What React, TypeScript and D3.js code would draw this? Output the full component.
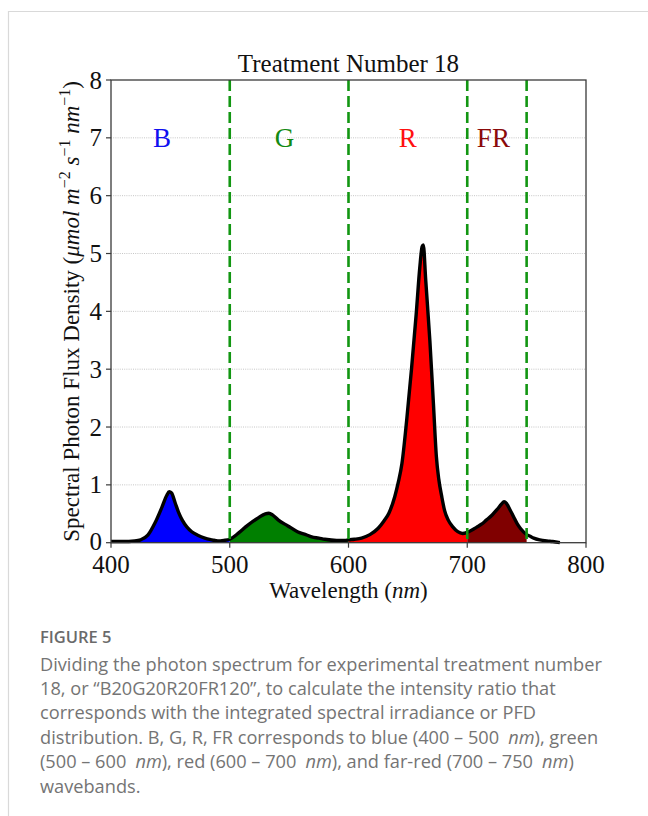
import React from 'react';
import * as d3 from 'd3';

// ---- data ----
const WAVELENGTH = [
  400, 410, 420, 425, 431, 437, 443, 447, 449, 451, 454, 457, 460, 464, 468, 473, 479, 485, 490, 495, 500,
  507, 515, 524, 530, 533, 536, 541, 549, 557, 564, 569, 575, 580, 590, 597, 600,
  605, 611, 618, 625, 630, 634, 639, 642, 645, 649, 653, 657, 660, 662, 663, 665, 668.5, 671.5, 674, 676, 678.5, 681, 684, 688, 692, 696, 700,
  704, 708, 712, 716, 721, 725, 729, 731, 733, 736, 739, 742, 745, 750, 753, 756, 761, 767, 772, 778,
];
const PFD = [
  0.02, 0.02, 0.03, 0.05, 0.13, 0.34, 0.62, 0.82, 0.88, 0.86, 0.69, 0.52, 0.39, 0.27, 0.19, 0.13, 0.08, 0.05, 0.03, 0.04, 0.06,
  0.16, 0.30, 0.43, 0.50, 0.51, 0.48, 0.39, 0.29, 0.19, 0.14, 0.10, 0.08, 0.06, 0.04, 0.04, 0.05,
  0.06, 0.08, 0.14, 0.25, 0.38, 0.51, 0.80, 1.05, 1.37, 2.12, 2.99, 3.95, 4.75, 5.12, 5.15, 4.55, 3.5, 2.41, 1.49, 1.1, 0.80, 0.55, 0.39, 0.27, 0.19, 0.16, 0.18,
  0.22, 0.27, 0.32, 0.39, 0.48, 0.57, 0.67, 0.71, 0.68, 0.57, 0.45, 0.33, 0.24, 0.14, 0.11, 0.08, 0.05, 0.03, 0.02, 0.0,
];
const BAND_NAMES = ['B', 'G', 'R', 'FR'];
const BAND_EDGES = [400, 500, 600, 700, 750];
const BAND_LABEL_NM = [443, 546, 650, 722];
const BAND_LABEL_VALUE = 7;
const X_TICKS = [400, 500, 600, 700, 800];
const Y_TICKS = [0, 1, 2, 3, 4, 5, 6, 7, 8];
const TITLE = 'Treatment Number 18';

const BAND_COLORS = ['#0000ff', '#007f00', '#ff0000', '#800000'];
const LABEL_COLORS = ['#1010f0', '#138a13', '#ff1010', '#8a0a0a'];
const SERIF = '"Liberation Serif", "DejaVu Serif", serif';
const SANS = '"Open Sans", "Noto Sans", sans-serif';

export default function App() {
  const W = 648, H = 816;
  const x = d3.scaleLinear().domain([400, 800]).range([111, 586]);
  const y = d3.scaleLinear().domain([0, 8]).range([542.7, 80]);
  const pts = WAVELENGTH.map((w, i) => [w, PFD[i]] as [number, number]);

  const area = d3.area<[number, number]>()
    .x(d => x(d[0])).y0(y(0)).y1(d => y(d[1])).curve(d3.curveMonotoneX);
  const line = d3.line<[number, number]>()
    .x(d => x(d[0])).y(d => y(d[1])).curve(d3.curveMonotoneX);

  const [x0, x1] = x.range();
  const [yb, yt] = y.range();
  const dividers = BAND_EDGES.slice(1);

  const captionLines: (string | { it: string })[][] = [
    ['Dividing the photon spectrum for experimental treatment number'],
    ['18, or \u201CB20G20R20FR120\u201D, to calculate the intensity ratio that'],
    ['corresponds with the integrated spectral irradiance or PFD'],
    ['distribution. B, G, R, FR corresponds to blue (400 \u2013 500\u2002', { it: 'nm' }, '), green'],
    ['(500 \u2013 600\u2002', { it: 'nm' }, '), red (600 \u2013 700\u2002', { it: 'nm' }, '), and far-red (700 \u2013 750\u2002', { it: 'nm' }, ')'],
    ['wavebands.'],
  ];

  return (
    <div style={{ position: 'absolute', left: 0, top: 0 }}>
      <svg width={W} height={H} style={{ display: 'block', background: '#fff' }}>
        {/* card border */}
        <path d={`M8.5,${H} V11.5 H${W}`} fill="none" stroke="#d9d9d9" strokeWidth={1.2} />

        {/* grid */}
        {Y_TICKS.filter(t => t > 0 && t < 8).map(t => (
          <line key={t} x1={x0} x2={x1} y1={y(t)} y2={y(t)} stroke="#b8b8b8" strokeWidth={0.8} strokeDasharray="1,1.2" />
        ))}

        {/* band fills */}
        {BAND_NAMES.map((b, i) => {
          const lo = BAND_EDGES[i], hi = BAND_EDGES[i + 1];
          const sub = pts.filter(p => p[0] >= lo && p[0] <= hi);
          return <path key={b} d={area(sub) || ''} fill={BAND_COLORS[i]} />;
        })}

        {/* spectrum line */}
        <path d={line(pts) || ''} fill="none" stroke="#000" strokeWidth={3.4} strokeLinejoin="round" />

        {/* band dividers */}
        {dividers.map(d => (
          <line key={d} x1={x(d)} x2={x(d)} y1={yt} y2={yb} stroke="#129612" strokeWidth={2.6} strokeDasharray="11,5" />
        ))}

        {/* band labels */}
        {BAND_NAMES.map((b, i) => (
          <text key={b} x={x(BAND_LABEL_NM[i])} y={y(BAND_LABEL_VALUE) + 9} textAnchor="middle"
            fontFamily={SERIF} fontSize={27} fill={LABEL_COLORS[i]}>{b}</text>
        ))}

        {/* frame */}
        <rect x={x0} y={yt} width={x1 - x0} height={yb - yt} fill="none" stroke="#3a3a3a" strokeWidth={1.3} />

        {/* y ticks */}
        {Y_TICKS.map(t => (
          <g key={t}>
            <line x1={x0 - 5} x2={x0} y1={y(t)} y2={y(t)} stroke="#3a3a3a" strokeWidth={1.2} />
            <text x={x0 - 9} y={y(t) + (t === 0 ? 7 : 8.5)} textAnchor="end" fontFamily={SERIF} fontSize={25} fill="#111">{t}</text>
          </g>
        ))}
        {/* x ticks */}
        {X_TICKS.map(t => (
          <g key={t}>
            <line x1={x(t)} x2={x(t)} y1={yb} y2={yb + 5} stroke="#3a3a3a" strokeWidth={1.2} />
            <text x={x(t)} y={573} textAnchor="middle" fontFamily={SERIF} fontSize={25} fill="#111">{t}</text>
          </g>
        ))}

        {/* title */}
        <text x={(x0 + x1) / 2} y={72} textAnchor="middle" fontFamily={SERIF} fontSize={25} fill="#111">{TITLE}</text>

        {/* x label */}
        <text x={(x0 + x1) / 2} y={598} textAnchor="middle" fontFamily={SERIF} fontSize={23} fill="#111">
          Wavelength (<tspan fontStyle="italic">nm</tspan>)
        </text>

        {/* y label */}
        <text transform={`translate(79,${(yt + yb) / 2}) rotate(-90)`} textAnchor="middle" fontFamily={SERIF} fontSize={23} fill="#111">
          Spectral Photon Flux Density (<tspan fontStyle="italic">{'\u03BCmol m'}</tspan>
          <tspan fontSize={16} dy={-9}>{'\u22122'}</tspan>
          <tspan fontStyle="italic" dy={9}>{' s'}</tspan>
          <tspan fontSize={16} dy={-9}>{'\u22121'}</tspan>
          <tspan fontStyle="italic" dy={9}>{' nm'}</tspan>
          <tspan fontSize={16} dy={-9}>{'\u22121'}</tspan>
          <tspan dy={9}>)</tspan>
        </text>

        {/* caption */}
        <text x={40} y={643} fontFamily={SANS} fontSize={16.5} fontWeight={600} fill="#6a6a6a">FIGURE 5</text>
        {captionLines.map((parts, li) => (
          <text key={li} x={40} y={670.5 + li * 24.4} fontFamily={SANS} fontSize={18.2} fill="#747474">
            {parts.map((p, pi) => typeof p === 'string'
              ? <tspan key={pi}>{p}</tspan>
              : <tspan key={pi} fontStyle="italic">{p.it}</tspan>)}
          </text>
        ))}
      </svg>
    </div>
  );
}
